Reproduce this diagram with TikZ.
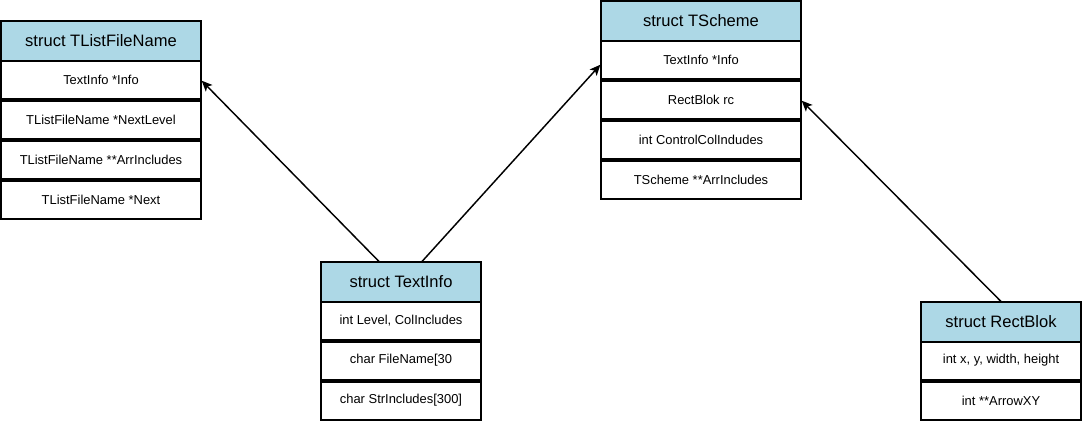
\documentclass[tikz,border=0pt]{standalone}
\usepackage{fontspec}
\setmainfont{Liberation Sans}
\usetikzlibrary{positioning,arrows.meta}
\definecolor{header}{HTML}{ADD8E6}

\tikzset{
  structhead/.style={draw, line width=1.5pt, fill=header, minimum height=30pt, inner sep=0pt, outer sep=0pt, font=\fontsize{12.4}{14}\selectfont},
  field/.style={draw, line width=1.5pt, fill=white, minimum height=28.5pt, inner sep=0pt, outer sep=0pt, font=\fontsize{9.7}{11}\selectfont},
  link/.style={-{Stealth[length=8pt,width=7pt,inset=2pt]}, line width=1.1pt, shorten >=0.75pt},
}

\begin{document}
\begin{tikzpicture}[x=0.75pt, y=-0.75pt]
        \useasboundingbox (0,0) rectangle (1084,424);

        % Struct TListFileName
        \node[structhead, minimum width=150pt] (tlf) at (101,41) {struct TListFileName};
        \node[field, minimum width=150pt, below=0pt of tlf] (tlf-info) {TextInfo *Info};
        \node[field, minimum width=150pt, below=1.5pt of tlf-info] (tlf-level) {TListFileName *NextLevel};
        \node[field, minimum width=150pt, below=1.5pt of tlf-level] (tlf-arr) {TListFileName **ArrIncludes};
        \node[field, minimum width=150pt, below=1.5pt of tlf-arr] (tlf-next) {TListFileName *Next};

        % Struct TScheme
        \node[structhead, minimum width=150pt] (tsc) at (701,21) {struct TScheme};
        \node[field, minimum width=150pt, below=0pt of tsc] (tsc-info) {TextInfo *Info};
        \node[field, minimum width=150pt, below=1.5pt of tsc-info] (tsc-rc) {RectBlok rc};
        \node[field, minimum width=150pt, below=1.5pt of tsc-rc] (tsc-col) {int ControlColIndudes};
        \node[field, minimum width=150pt, below=1.5pt of tsc-col] (tsc-arr) {TScheme **ArrIncludes};

        % Struct TextInfo
        \node[structhead, minimum width=120pt] (ti) at (401,281.5) {struct TextInfo};
        \node[field, minimum width=120pt, below=0pt of ti] (ti-level) {int Level, ColIncludes};
        \node[field, minimum width=120pt, below=1.5pt of ti-level] (ti-name) {char FileName[30};
        \node[field, minimum width=120pt, below=1.5pt of ti-name] (ti-str) {char StrIncludes[300]};

        % Struct RectBlok
        \node[structhead, minimum width=120pt] (rb) at (1001,321.5) {struct RectBlok};
        \node[field, minimum width=120pt, below=0pt of rb] (rb-size) {int x, y, width, height};
        \node[field, minimum width=120pt, below=1.5pt of rb-size] (rb-arrow) {int **ArrowXY};

        % Enlaces
        \draw[link] ([xshift=-16.5pt]ti.north) -- (tlf-info.east);
        \draw[link] ([xshift=15.75pt]ti.north) -- ([yshift=-3pt]tsc-info.west);
        \draw[link] (rb.north) -- (tsc-rc.east);
\end{tikzpicture}
\end{document}
